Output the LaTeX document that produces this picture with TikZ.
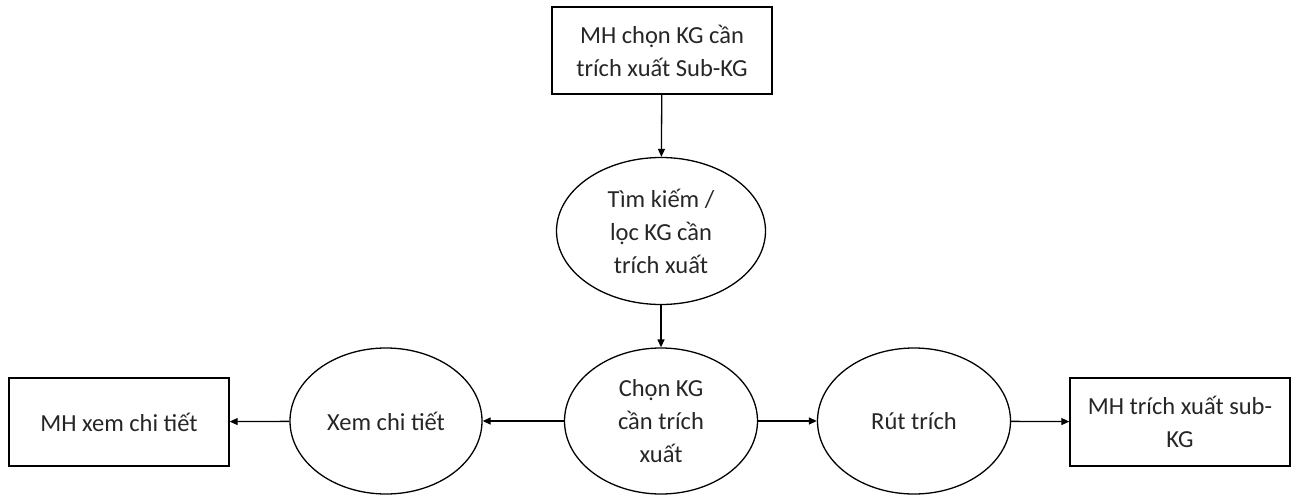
\documentclass[tikz,border=0pt]{standalone}
\usepackage{fontspec}
\setmainfont{Carlito}
\usetikzlibrary{shapes.geometric,arrows.meta}
\begin{document}
\begin{tikzpicture}[x=1pt,y=-1pt,
  every node/.style={font=\fontsize{24.5}{33}\selectfont, text=black!85, align=center, inner sep=0pt},
  screen/.style={draw, line width=1.4pt, rectangle, minimum width=220pt, minimum height=88pt},
  action/.style={draw, line width=1.3pt, ellipse, minimum width=#1, minimum height=146pt},
  flow/.style={line width=1.3pt, -{Triangle[length=8pt,width=7pt]}}]
  \useasboundingbox (0,0) rectangle (1291,495);

  \node[screen, minimum height=87pt] (mhchon) at (662,50.5) {MH chọn KG cần\\trích xuất Sub-KG};
  \node[action=209pt, minimum height=147pt] (tim) at (661,231) {Tìm kiếm /\\lọc KG cần\\trích xuất};
  \node[action=193pt] (chon) at (661,421) {Chọn KG\\cần trích\\xuất};
  \node[action=192pt] (xem) at (386,421) {Xem chi tiết};
  \node[action=193pt] (rut) at (914,421) {Rút trích};
  \node[screen] (mhxem) at (119,422) {MH xem chi tiết};
  \node[screen] (mhrut) at (1180,422) {MH trích xuất sub-\\KG};

  \draw[flow] (mhchon) -- (tim);
  \draw[flow] (tim) -- (chon);
  \draw[flow] (chon) -- (xem);
  \draw[flow] (xem) -- (mhxem);
  \draw[flow] (chon) -- (rut);
  \draw[flow] (rut) -- (mhrut);
\end{tikzpicture}
\end{document}
